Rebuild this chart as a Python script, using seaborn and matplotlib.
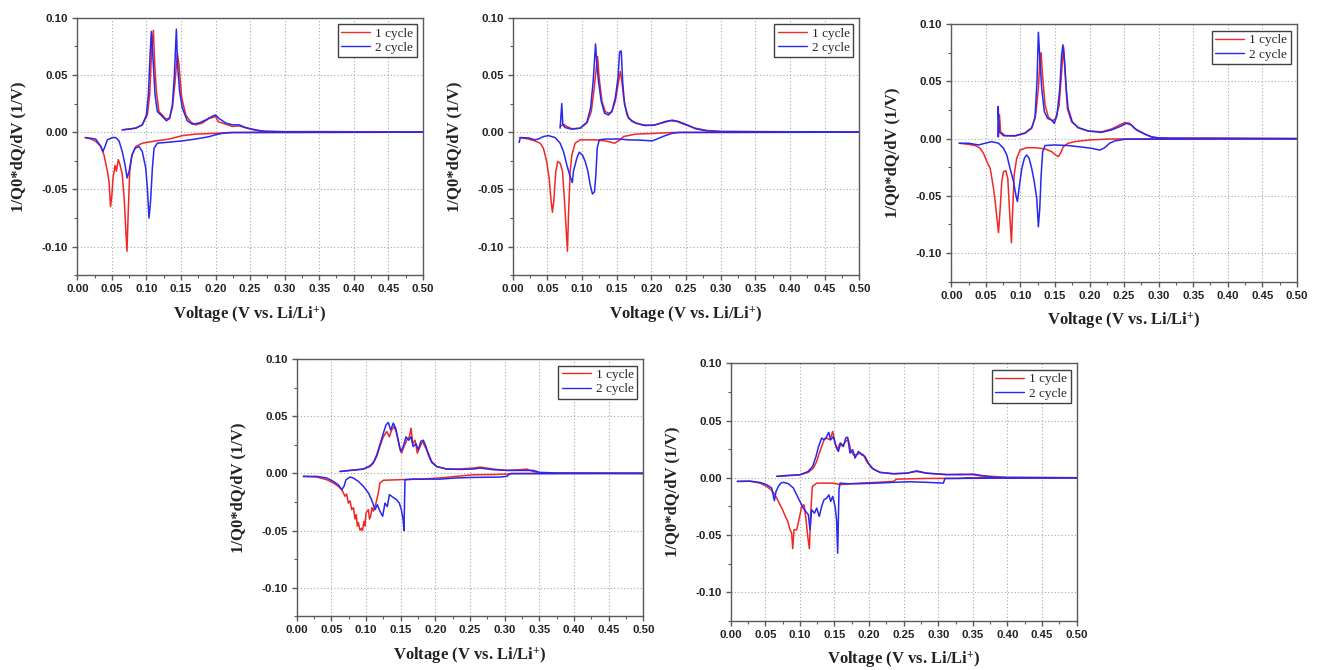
import matplotlib
matplotlib.use('Agg')
import matplotlib.pyplot as plt
from matplotlib.lines import Line2D
from matplotlib.ticker import MultipleLocator
import seaborn as sns
import pandas as pd

# dQ/dV curves: (voltage, 1/Q0*dQ/dV) pairs
# dis = lithiation branch (negative), chg = delithiation branch (positive)
p1_c1_dis = [(0.011, -0.0047), (0.020, -0.006), (0.0265, -0.008), (0.034, -0.0125), (0.0386, -0.020),
             (0.0434, -0.034), (0.0458, -0.043), (0.047, -0.055), (0.048, -0.065), (0.050, -0.055),
             (0.0516, -0.040), (0.0545, -0.029), (0.0565, -0.034), (0.0593, -0.024), (0.0615, -0.028),
             (0.065, -0.037), (0.068, -0.060), (0.070, -0.085), (0.0718, -0.104), (0.0735, -0.072),
             (0.0758, -0.034), (0.079, -0.020), (0.0845, -0.0125), (0.094, -0.0096), (0.1135, -0.0076),
             (0.1327, -0.006), (0.152, -0.003), (0.171, -0.0017), (0.20, -0.001), (0.22, -0.0003), (0.50, 0.0)]
p1_c1_chg = [(0.065, 0.002), (0.0845, 0.0035), (0.094, 0.0064), (0.1013, 0.015), (0.1047, 0.0326),
             (0.1076, 0.073), (0.110, 0.089), (0.112, 0.059), (0.1144, 0.0355), (0.118, 0.018),
             (0.123, 0.015), (0.128, 0.0116), (0.1327, 0.012), (0.1375, 0.021), (0.1414, 0.044),
             (0.1448, 0.069), (0.147, 0.059), (0.151, 0.030), (0.157, 0.015), (0.164, 0.009),
             (0.171, 0.0064), (0.181, 0.008), (0.1906, 0.012), (0.200, 0.0137), (0.2041, 0.009),
             (0.21, 0.008), (0.2244, 0.005), (0.234, 0.0055), (0.2485, 0.003), (0.263, 0.001),
             (0.30, 0.0005), (0.36, 0.0005), (0.50, 0.0)]
p1_c2_dis = [(0.012, -0.0047), (0.0265, -0.006), (0.034, -0.0125), (0.037, -0.017), (0.040, -0.0125),
             (0.0434, -0.0067), (0.0507, -0.0047), (0.0555, -0.0047), (0.0603, -0.0076), (0.065, -0.017),
             (0.069, -0.0285), (0.072, -0.040), (0.075, -0.034), (0.079, -0.020), (0.0835, -0.014),
             (0.0893, -0.0125), (0.094, -0.017), (0.099, -0.0314), (0.1013, -0.049), (0.1037, -0.075),
             (0.106, -0.060), (0.1086, -0.031), (0.111, -0.014), (0.1158, -0.0096), (0.1327, -0.0087),
             (0.152, -0.0076), (0.171, -0.006), (0.19, -0.004), (0.20, -0.0023), (0.21, -0.001),
             (0.225, -0.0003), (0.50, 0.0)]
p1_c2_chg = [(0.065, 0.002), (0.0845, 0.0035), (0.094, 0.0064), (0.0999, 0.015), (0.1028, 0.0326),
             (0.1052, 0.067), (0.1071, 0.088), (0.1095, 0.064), (0.1124, 0.0326), (0.1158, 0.018),
             (0.123, 0.0137), (0.1288, 0.010), (0.1336, 0.012), (0.1375, 0.024), (0.1404, 0.050),
             (0.1433, 0.090), (0.145, 0.059), (0.148, 0.0355), (0.152, 0.021), (0.159, 0.010),
             (0.1665, 0.007), (0.176, 0.008), (0.1858, 0.0107), (0.1955, 0.014), (0.200, 0.015),
             (0.205, 0.012), (0.2148, 0.008), (0.2244, 0.0064), (0.234, 0.0064), (0.2437, 0.004),
             (0.258, 0.002), (0.2727, 0.0006), (0.30, 0.0003), (0.50, 0.0)]

p2_c1_dis = [(0.010, -0.0047), (0.0227, -0.006), (0.032, -0.0076), (0.0395, -0.0096), (0.0443, -0.014),
             (0.049, -0.0256), (0.0525, -0.040), (0.0554, -0.060), (0.0573, -0.070), (0.0593, -0.060),
             (0.0622, -0.034), (0.065, -0.0256), (0.0684, -0.027), (0.0718, -0.034), (0.0747, -0.060),
             (0.0790, -0.104), (0.0805, -0.072), (0.0829, -0.034), (0.0853, -0.020), (0.090, -0.0096),
             (0.0973, -0.0067), (0.119, -0.0067), (0.1335, -0.0076), (0.147, -0.0096), (0.1528, -0.0076),
             (0.160, -0.0038), (0.177, -0.0017), (0.2058, -0.001), (0.23, -0.0003), (0.50, 0.0)]
p2_c1_chg = [(0.0684, 0.005), (0.0733, 0.007), (0.078, 0.005), (0.0853, 0.003), (0.0973, 0.0035),
             (0.107, 0.008), (0.1133, 0.018), (0.117, 0.0355), (0.120, 0.053), (0.1224, 0.066),
             (0.1248, 0.047), (0.1287, 0.027), (0.1335, 0.018), (0.1383, 0.0166), (0.143, 0.018),
             (0.148, 0.027), (0.1518, 0.041), (0.1552, 0.053), (0.1576, 0.044), (0.160, 0.030),
             (0.1648, 0.015), (0.172, 0.0093), (0.1865, 0.0064), (0.201, 0.0058), (0.2154, 0.008),
             (0.2275, 0.010), (0.237, 0.0093), (0.249, 0.0064), (0.2636, 0.0035), (0.28, 0.0015),
             (0.30, 0.0007), (0.36, 0.0005), (0.50, 0.0)]
p2_c2_dis = [(0.0092, -0.009), (0.011, -0.0047), (0.0227, -0.005), (0.032, -0.0067), (0.037, -0.006),
             (0.0443, -0.0038), (0.0516, -0.003), (0.0612, -0.0047), (0.0684, -0.0096), (0.0733, -0.017),
             (0.078, -0.0285), (0.082, -0.037), (0.0860, -0.044), (0.0877, -0.034), (0.0925, -0.0227),
             (0.096, -0.0175), (0.1007, -0.020), (0.1046, -0.0256), (0.1084, -0.034), (0.1118, -0.046),
             (0.1150, -0.054), (0.118, -0.052), (0.120, -0.037), (0.1219, -0.014), (0.1248, -0.0067),
             (0.1335, -0.006), (0.1528, -0.006), (0.1672, -0.0067), (0.1865, -0.007), (0.201, -0.0076),
             (0.2082, -0.006), (0.22, -0.003), (0.23, -0.001), (0.24, -0.0002), (0.50, 0.0)]
p2_c2_chg = [(0.0684, 0.0035), (0.0708, 0.025), (0.0723, 0.0064), (0.0757, 0.004), (0.0853, 0.0026),
             (0.0973, 0.0035), (0.107, 0.0087), (0.1123, 0.021), (0.116, 0.044), (0.1195, 0.077),
             (0.1214, 0.059), (0.1238, 0.044), (0.1277, 0.027), (0.1325, 0.0166), (0.1383, 0.015),
             (0.143, 0.018), (0.148, 0.030), (0.1518, 0.047), (0.1542, 0.070), (0.1566, 0.071),
             (0.1586, 0.044), (0.1614, 0.024), (0.1672, 0.012), (0.177, 0.008), (0.1913, 0.0058),
             (0.2058, 0.0064), (0.22, 0.0093), (0.23, 0.0105), (0.2395, 0.0093), (0.2516, 0.0064),
             (0.2636, 0.003), (0.28, 0.0012), (0.30, 0.0005), (0.50, 0.0)]

p3_c1_dis = [(0.0115, -0.004), (0.025, -0.005), (0.0346, -0.006), (0.0418, -0.0084), (0.0466, -0.0128),
             (0.0514, -0.020), (0.0563, -0.026), (0.061, -0.0433), (0.0635, -0.055), (0.066, -0.0695),
             (0.0683, -0.082), (0.0707, -0.061), (0.073, -0.0375), (0.0755, -0.0288), (0.0788, -0.028),
             (0.0817, -0.0346), (0.0841, -0.061), (0.0870, -0.091), (0.0885, -0.0666), (0.0909, -0.0317),
             (0.0947, -0.017), (0.0995, -0.010), (0.109, -0.0079), (0.121, -0.0079), (0.1356, -0.009),
             (0.145, -0.0113), (0.151, -0.0143), (0.155, -0.0157), (0.1587, -0.012), (0.162, -0.007),
             (0.169, -0.004), (0.179, -0.0026), (0.198, -0.0012), (0.227, -0.0003), (0.50, 0.0)]
p3_c1_chg = [(0.0683, 0.0017), (0.0697, 0.021), (0.0712, 0.006), (0.078, 0.0026), (0.0923, 0.0023),
             (0.1067, 0.0047), (0.1163, 0.009), (0.122, 0.0207), (0.126, 0.044), (0.1284, 0.070),
             (0.1298, 0.075), (0.132, 0.0556), (0.1356, 0.0294), (0.1404, 0.019), (0.146, 0.0154),
             (0.151, 0.0177), (0.156, 0.029), (0.1596, 0.058), (0.1625, 0.080), (0.1654, 0.050),
             (0.168, 0.026), (0.174, 0.0148), (0.1837, 0.0096), (0.198, 0.0067), (0.2173, 0.006),
             (0.2317, 0.0084), (0.2437, 0.012), (0.251, 0.014), (0.258, 0.0134), (0.265, 0.009),
             (0.28, 0.004), (0.29, 0.0015), (0.30, 0.0005), (0.39, 0.0005), (0.50, 0.0)]
p3_c2_dis = [(0.0115, -0.004), (0.025, -0.004), (0.0394, -0.0055), (0.049, -0.004), (0.0587, -0.0026),
             (0.0683, -0.004), (0.0755, -0.0084), (0.0803, -0.0143), (0.085, -0.026), (0.090, -0.0375),
             (0.0933, -0.049), (0.0957, -0.055), (0.098, -0.0433), (0.102, -0.026), (0.1058, -0.017),
             (0.109, -0.0143), (0.1125, -0.017), (0.1163, -0.026), (0.120, -0.0375), (0.1236, -0.052),
             (0.126, -0.077), (0.128, -0.061), (0.130, -0.0317), (0.1322, -0.0113), (0.1356, -0.006),
             (0.150, -0.0055), (0.169, -0.006), (0.188, -0.0073), (0.2029, -0.0084), (0.215, -0.010),
             (0.222, -0.0079), (0.229, -0.004), (0.2365, -0.002), (0.251, -0.0005), (0.50, 0.0)]
p3_c2_chg = [(0.0673, 0.0017), (0.0678, 0.028), (0.0692, 0.006), (0.0755, 0.0026), (0.0923, 0.0026),
             (0.1067, 0.005), (0.1163, 0.0096), (0.121, 0.0177), (0.124, 0.050), (0.126, 0.093),
             (0.1284, 0.067), (0.1308, 0.044), (0.1346, 0.0236), (0.1394, 0.0177), (0.1452, 0.0163),
             (0.149, 0.0134), (0.153, 0.0207), (0.157, 0.044), (0.1596, 0.073), (0.1615, 0.082),
             (0.164, 0.067), (0.1663, 0.044), (0.169, 0.0265), (0.175, 0.0148), (0.1837, 0.0096),
             (0.198, 0.0067), (0.2173, 0.0055), (0.2317, 0.0076), (0.2437, 0.0105), (0.2534, 0.0134),
             (0.2606, 0.012), (0.268, 0.0076), (0.28, 0.004), (0.29, 0.0015), (0.30, 0.0007),
             (0.32, 0.0003), (0.50, 0.0)]

p4_c1_dis = [(0.0096, -0.0026), (0.0288, -0.0032), (0.0433, -0.0055), (0.0529, -0.0084), (0.060, -0.0113),
             (0.065, -0.0142), (0.0697, -0.020), (0.072, -0.018), (0.0745, -0.026), (0.077, -0.024),
             (0.0793, -0.0317), (0.082, -0.030), (0.0841, -0.040), (0.086, -0.036), (0.0875, -0.046),
             (0.089, -0.043), (0.0913, -0.0497), (0.0937, -0.048), (0.095, -0.050), (0.097, -0.042),
             (0.0985, -0.046), (0.100, -0.0346), (0.1034, -0.0317), (0.105, -0.040), (0.1067, -0.0375),
             (0.1085, -0.030), (0.1106, -0.033), (0.1144, -0.026), (0.1178, -0.017), (0.120, -0.0084),
             (0.125, -0.006), (0.149, -0.0055), (0.178, -0.005), (0.2067, -0.004), (0.23, -0.0026),
             (0.255, -0.0012), (0.2837, -0.001), (0.303, -0.0006), (0.31, 0.0), (0.50, 0.0)]
p4_c1_chg = [(0.0625, 0.0017), (0.077, 0.0026), (0.0962, 0.0038), (0.1058, 0.006), (0.1106, 0.009),
             (0.1154, 0.0148), (0.120, 0.0235), (0.125, 0.032), (0.130, 0.0366), (0.1337, 0.032),
             (0.137, 0.038), (0.1404, 0.041), (0.1442, 0.035), (0.148, 0.0235), (0.1514, 0.0177),
             (0.1548, 0.0235), (0.1587, 0.029), (0.1625, 0.032), (0.165, 0.0395), (0.1673, 0.026),
             (0.1707, 0.029), (0.174, 0.0177), (0.178, 0.0235), (0.1817, 0.028), (0.185, 0.0235),
             (0.190, 0.0177), (0.1947, 0.0105), (0.2019, 0.006), (0.2163, 0.0038), (0.2356, 0.0038),
             (0.2548, 0.0047), (0.2644, 0.0055), (0.2837, 0.0038), (0.303, 0.0026), (0.322, 0.0032),
             (0.3317, 0.0038), (0.341, 0.0017), (0.351, 0.0003), (0.50, 0.0)]
p4_c2_dis = [(0.0096, -0.0026), (0.0288, -0.0026), (0.0433, -0.004), (0.0529, -0.007), (0.060, -0.010),
             (0.065, -0.0142), (0.0683, -0.0113), (0.0711, -0.0055), (0.077, -0.0032), (0.0817, -0.004),
             (0.089, -0.007), (0.0962, -0.0113), (0.1034, -0.017), (0.108, -0.023), (0.113, -0.0317),
             (0.1163, -0.0273), (0.120, -0.033), (0.124, -0.0375), (0.1274, -0.026), (0.1308, -0.029),
             (0.1337, -0.0186), (0.137, -0.020), (0.1404, -0.0215), (0.1442, -0.023), (0.148, -0.026),
             (0.151, -0.0317), (0.1534, -0.040), (0.1548, -0.050), (0.1562, -0.0055), (0.168, -0.005),
             (0.1875, -0.005), (0.2067, -0.005), (0.23, -0.004), (0.2548, -0.0035), (0.293, -0.0032),
             (0.303, -0.0026), (0.3077, -0.0003), (0.50, 0.0)]
p4_c2_chg = [(0.0625, 0.0017), (0.077, 0.0026), (0.0962, 0.0038), (0.1058, 0.0067), (0.1106, 0.0096),
             (0.1154, 0.016), (0.120, 0.025), (0.125, 0.035), (0.1288, 0.0424), (0.1322, 0.0445),
             (0.1356, 0.038), (0.1394, 0.044), (0.1428, 0.0395), (0.1466, 0.029), (0.150, 0.0192),
             (0.1538, 0.0235), (0.1577, 0.032), (0.1615, 0.029), (0.165, 0.032), (0.168, 0.0235),
             (0.172, 0.026), (0.1755, 0.0206), (0.179, 0.028), (0.1827, 0.029), (0.1865, 0.0235),
             (0.190, 0.016), (0.1947, 0.0096), (0.2019, 0.006), (0.2163, 0.0038), (0.2356, 0.0035),
             (0.2548, 0.0038), (0.2644, 0.0047), (0.2837, 0.0032), (0.303, 0.0026), (0.327, 0.0026),
             (0.341, 0.0026), (0.351, 0.0009), (0.375, 0.0003), (0.50, 0.0)]

p5_c1_dis = [(0.0096, -0.0032), (0.028, -0.003), (0.0424, -0.0047), (0.052, -0.0076), (0.0592, -0.011),
             (0.064, -0.015), (0.0674, -0.019), (0.0713, -0.0236), (0.075, -0.028), (0.079, -0.0338),
             (0.0824, -0.038), (0.0857, -0.0455), (0.088, -0.048), (0.0896, -0.062), (0.0915, -0.0455),
             (0.0954, -0.0455), (0.0987, -0.0367), (0.1026, -0.025), (0.106, -0.0236), (0.1089, -0.0367),
             (0.1113, -0.0513), (0.1137, -0.062), (0.1156, -0.031), (0.118, -0.0076), (0.1243, -0.0047),
             (0.1484, -0.0047), (0.158, -0.006), (0.187, -0.0047), (0.211, -0.004), (0.235, -0.0032),
             (0.240, -0.0012), (0.283, -0.0006), (0.331, -0.0006), (0.341, 0.0), (0.50, 0.0)]
p5_c1_chg = [(0.0665, 0.0012), (0.081, 0.0017), (0.100, 0.0026), (0.112, 0.0047), (0.1195, 0.0085),
             (0.1243, 0.0143), (0.128, 0.0216), (0.1315, 0.0274), (0.1349, 0.0332), (0.1387, 0.0347),
             (0.1435, 0.0332), (0.1474, 0.0405), (0.1508, 0.0303), (0.1541, 0.0245), (0.158, 0.0303),
             (0.1618, 0.0274), (0.1657, 0.0318), (0.170, 0.0332), (0.1734, 0.0245), (0.1773, 0.0201),
             (0.182, 0.0201), (0.187, 0.0216), (0.1917, 0.0201), (0.1965, 0.0143), (0.2038, 0.0085),
             (0.2158, 0.0047), (0.235, 0.0035), (0.2543, 0.004), (0.2688, 0.0055), (0.283, 0.004),
             (0.312, 0.0026), (0.331, 0.0032), (0.3507, 0.0026), (0.360, 0.0017), (0.3796, 0.0012),
             (0.3988, 0.0003), (0.50, 0.0)]
p5_c2_dis = [(0.0096, -0.0032), (0.028, -0.003), (0.0424, -0.0041), (0.052, -0.0061), (0.0592, -0.009),
             (0.0631, -0.020), (0.0655, -0.012), (0.0689, -0.0076), (0.0723, -0.0047), (0.0761, -0.004),
             (0.0833, -0.0052), (0.0906, -0.009), (0.0954, -0.015), (0.100, -0.0207), (0.105, -0.0265),
             (0.1084, -0.0294), (0.1122, -0.0323), (0.1146, -0.0455), (0.117, -0.028), (0.121, -0.031),
             (0.1243, -0.0265), (0.128, -0.0338), (0.1315, -0.025), (0.1349, -0.0192), (0.1387, -0.0178),
             (0.142, -0.015), (0.1445, -0.0207), (0.1474, -0.0163), (0.1508, -0.025), (0.153, -0.0367),
             (0.1546, -0.066), (0.1565, -0.0105), (0.158, -0.0047), (0.1676, -0.0052), (0.187, -0.0052),
             (0.211, -0.0047), (0.235, -0.004), (0.259, -0.0035), (0.283, -0.004), (0.3073, -0.0047),
             (0.3097, -0.0006), (0.50, 0.0)]
p5_c2_chg = [(0.0665, 0.0012), (0.081, 0.002), (0.100, 0.0026), (0.112, 0.0055), (0.1185, 0.010),
             (0.1233, 0.0187), (0.127, 0.0274), (0.1315, 0.0347), (0.1349, 0.0332), (0.1387, 0.036),
             (0.1416, 0.0397), (0.1445, 0.0332), (0.1484, 0.036), (0.1522, 0.0274), (0.1556, 0.023),
             (0.159, 0.0303), (0.1628, 0.0274), (0.1662, 0.0347), (0.169, 0.0355), (0.1724, 0.0216),
             (0.1763, 0.0245), (0.1797, 0.0172), (0.1845, 0.023), (0.1893, 0.0201), (0.194, 0.0187),
             (0.199, 0.0128), (0.206, 0.0076), (0.2158, 0.0047), (0.235, 0.0035), (0.2543, 0.004),
             (0.2688, 0.006), (0.283, 0.004), (0.312, 0.0029), (0.331, 0.0026), (0.3507, 0.0032),
             (0.365, 0.0017), (0.3796, 0.0003), (0.50, 0.0)]

cycles = ['1 cycle', '2 cycle']
colors = {'1 cycle': '#f02828', '2 cycle': '#2828f0'}

panels = [
    (p1_c1_dis, p1_c1_chg, p1_c2_dis, p1_c2_chg),
    (p2_c1_dis, p2_c1_chg, p2_c2_dis, p2_c2_chg),
    (p3_c1_dis, p3_c1_chg, p3_c2_dis, p3_c2_chg),
    (p4_c1_dis, p4_c1_chg, p4_c2_dis, p4_c2_chg),
    (p5_c1_dis, p5_c1_chg, p5_c2_dis, p5_c2_chg),
]

# axes boxes (left, bottom, width, height) in figure fraction
boxes = [
    (0.0587, 0.5891, 0.2621, 0.3845),
    (0.3890, 0.5891, 0.2630, 0.3845),
    (0.7218, 0.5796, 0.2621, 0.3842),
    (0.2251, 0.0801, 0.2630, 0.3840),
    (0.5544, 0.0736, 0.2625, 0.3840),
]


def to_frame(branches):
    rows = []
    labels = [cycles[0], cycles[0], cycles[1], cycles[1]]
    for i, (pts, cyc) in enumerate(zip(branches, labels)):
        for v, q in pts:
            rows.append({'v': v, 'q': q, 'cycle': cyc, 'branch': i})
    return pd.DataFrame(rows)


sns.set_style('white')
plt.rcParams['font.family'] = ['Liberation Sans', 'DejaVu Sans']
plt.rcParams['axes.unicode_minus'] = False
plt.rcParams['mathtext.fontset'] = 'custom'
plt.rcParams['mathtext.rm'] = 'Liberation Serif:bold'
plt.rcParams['mathtext.it'] = 'Liberation Serif:bold'
plt.rcParams['mathtext.bf'] = 'Liberation Serif:bold'

fig = plt.figure(figsize=(13.18, 6.70), dpi=100)

for branches, box in zip(panels, boxes):
    ax = fig.add_axes(box)
    df = to_frame(branches)
    sns.lineplot(data=df, x='v', y='q', hue='cycle', hue_order=cycles, units='branch',
                 estimator=None, sort=False, palette=colors, lw=1.1, legend=False, ax=ax)

    ax.set_xlim(0, 0.5)
    ax.set_ylim(-0.125, 0.10)
    ax.xaxis.set_major_locator(MultipleLocator(0.05))
    ax.xaxis.set_minor_locator(MultipleLocator(0.025))
    ax.yaxis.set_major_locator(MultipleLocator(0.05))
    ax.yaxis.set_minor_locator(MultipleLocator(0.025))
    ax.xaxis.set_major_formatter(matplotlib.ticker.FormatStrFormatter('%.2f'))
    ax.yaxis.set_major_formatter(matplotlib.ticker.FormatStrFormatter('%.2f'))

    ax.grid(True, which='major', color='#a8a8a8', lw=0.8, ls=(0, (1, 2)))
    for s in ax.spines.values():
        s.set_color('#5a5a5a')
        s.set_linewidth(1.0)
    ax.tick_params(which='major', direction='out', length=3.5, width=1, color='#5a5a5a',
                   pad=3, labelsize=8.2, labelcolor='#222222', bottom=True, left=True)
    ax.tick_params(which='minor', direction='out', length=2, width=0.8, color='#5a5a5a',
                   bottom=True, left=True)
    for lab in ax.get_xticklabels() + ax.get_yticklabels():
        lab.set_fontweight('bold')

    ax.set_xlabel(r'Voltage (V vs. Li/Li$^{+}$)', family='Liberation Serif', weight='bold',
                  fontsize=12, labelpad=7, color='#222222')
    ax.set_ylabel('1/Q0*dQ/dV (1/V)', family='Liberation Serif', weight='bold',
                  fontsize=12, labelpad=11, color='#222222')

    handles = [Line2D([], [], color=colors[c], lw=1.0) for c in cycles]
    leg = ax.legend(handles, cycles, loc='upper right', bbox_to_anchor=(0.99, 0.985),
                    frameon=True, fancybox=False, framealpha=1, edgecolor='#404040',
                    prop={'family': 'Liberation Serif', 'size': 9.5},
                    handlelength=2.2, handletextpad=0.4, labelspacing=0.15,
                    borderpad=0.25, borderaxespad=0.2)
    leg.get_frame().set_linewidth(1.0)

fig.savefig('out.png', dpi=100)
